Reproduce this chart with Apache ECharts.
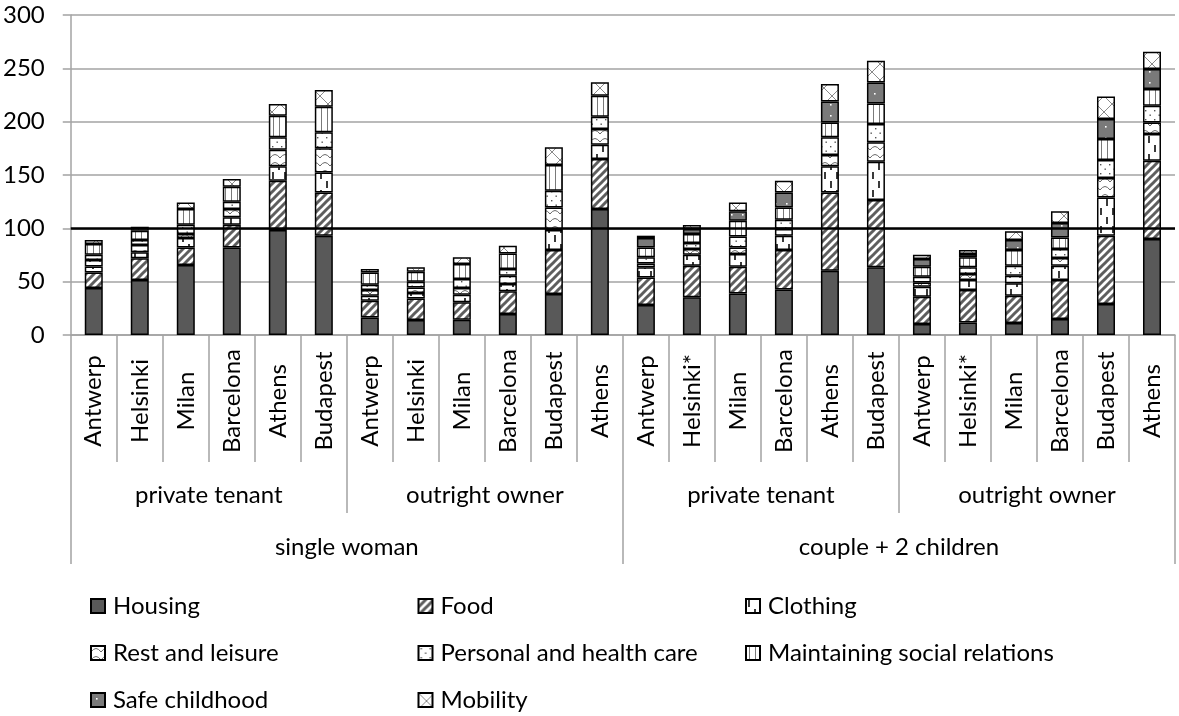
<!DOCTYPE html>
<html>
<head>
<meta charset="utf-8">
<script src="https://cdn.jsdelivr.net/npm/echarts@6/dist/echarts.min.js"></script>
<style>
  html, body { margin: 0; padding: 0; background: #fff; }
  #chart { width: 1179px; height: 716px; }
</style>
</head>
<body>
<div id="chart"></div>
<script>
// Reference budgets by household type, tenure and city
const cities = ['Antwerp', 'Helsinki', 'Milan', 'Barcelona', 'Athens', 'Budapest',
                'Antwerp', 'Helsinki', 'Milan', 'Barcelona', 'Budapest', 'Athens',
                'Antwerp', 'Helsinki*', 'Milan', 'Barcelona', 'Athens', 'Budapest',
                'Antwerp', 'Helsinki*', 'Milan', 'Barcelona', 'Budapest', 'Athens'];
const tenures = ['private tenant', 'outright owner', 'private tenant', 'outright owner'];
const households = ['single woman', 'couple + 2 children'];
const yTicks = { min: 0, max: 300, step: 50 };
const threshold = 100;

const housing   = [44, 51.6, 65.6, 82.1, 98.4, 93.1, 16.5, 14.1, 14.3, 19.7, 38.4, 118.1,
                   28.1, 35.3, 39, 42.7, 60.3, 63.4, 10.3, 11.8, 11.2, 15, 29.1, 90];
const food      = [14.7, 20.3, 16.5, 21.3, 46.3, 40.6, 15.7, 20.2, 16.3, 21.2, 41.3, 46.9,
                   25.9, 29.7, 25, 37, 73.4, 63.2, 25.6, 30.4, 25.6, 36.6, 64, 73.4];
const clothing  = [5.6, 5.6, 8.8, 6.9, 13.4, 18.7, 4.6, 5.1, 7.2, 6.9, 18.7, 13.4,
                   9.4, 10.3, 11.9, 13.4, 24.4, 35.9, 9.4, 9.4, 11.6, 13.4, 35.9, 25];
const leisure   = [6, 6.8, 3.8, 7.8, 15.6, 22.6, 5.4, 5.2, 6.3, 7.8, 21.2, 14.7,
                   3.7, 5.3, 6.2, 6.3, 10.6, 18.1, 4, 5.6, 7.2, 7.2, 18.2, 10.9];
const personal  = [5, 4.7, 8.7, 6.9, 11.6, 15, 5, 5.4, 8.4, 6.3, 15.7, 11.6,
                   5.7, 5.6, 10.3, 8.7, 16.6, 17.2, 5.4, 6.2, 9.4, 8.4, 16.9, 15.7];
const social    = [10, 8.8, 14.7, 14, 20.3, 24, 11.5, 9.3, 14.1, 14.6, 24.1, 19.6,
                   9.3, 8.5, 14.8, 11.5, 14, 19.3, 9.3, 9.4, 14.7, 10.9, 19.6, 15.6];
const childhood = [null, null, null, null, null, null, null, null, null, null, null, null,
                   8.8, 4.7, 8.7, 14.1, 19.7, 19.7, 7.2, 3.1, 9.4, 13.5, 18.8, 18.8];
const mobility  = [3.7, 3.7, 6.2, 7.2, 11, 15.7, 3.2, 4.1, 6.2, 7.2, 16.5, 12.6,
                   2.2, 3.7, 8.4, 11, 16.3, 20.4, 4.1, 3.8, 8.1, 10.9, 21.2, 16.2];

const seriesNames = ['Housing', 'Food', 'Clothing', 'Rest and leisure',
                     'Personal and health care', 'Maintaining social relations',
                     'Safe childhood', 'Mobility'];
const seriesData = [housing, food, clothing, leisure, personal, social, childhood, mobility];

// ---- fill patterns -------------------------------------------------------
function makePattern(w, h, bg, draw) {
  const c = document.createElement('canvas');
  c.width = w; c.height = h;
  const g = c.getContext('2d');
  g.fillStyle = bg;
  g.fillRect(0, 0, w, h);
  if (draw) draw(g);
  return { image: c, repeat: 'repeat' };
}
function line(g, x1, y1, x2, y2) { g.beginPath(); g.moveTo(x1, y1); g.lineTo(x2, y2); g.stroke(); }

const fills = [
  '#595959',
  makePattern(8, 8, '#ffffff', g => {            // wide diagonal stripes
    g.strokeStyle = '#5e5e5e'; g.lineWidth = 3;
    line(g, -2, 10, 10, -2); line(g, -2, 2, 2, -2); line(g, 6, 10, 10, 6);
  }),
  makePattern(12, 18, '#ffffff', g => {          // staggered vertical dashes
    g.strokeStyle = '#3a3a3a'; g.lineWidth = 2;
    line(g, 3, 1, 3, 8); line(g, 9, 10, 9, 17);
  }),
  makePattern(10, 8, '#ffffff', g => {           // waves
    g.strokeStyle = '#6a6a6a'; g.lineWidth = 1;
    g.beginPath(); g.moveTo(0, 6); g.quadraticCurveTo(5, -1, 10, 6); g.stroke();
  }),
  makePattern(9, 9, '#ffffff', g => {            // sparse dots
    g.fillStyle = '#555';
    g.fillRect(2, 2, 1.4, 1.4); g.fillRect(6.5, 6.5, 1.4, 1.4);
  }),
  makePattern(6, 6, '#ffffff', g => {            // vertical lines
    g.strokeStyle = '#7a7a7a'; g.lineWidth = 1;
    line(g, 3.5, 0, 3.5, 6);
  }),
  makePattern(11, 11, '#7a7a7a', g => {          // grey with white dots
    g.fillStyle = '#ffffff';
    g.fillRect(5, 5, 1.6, 1.6);
  }),
  makePattern(16, 16, '#ffffff', g => {          // diagonal lattice
    g.strokeStyle = '#8a8a8a'; g.lineWidth = 1;
    line(g, 0, 0, 16, 16); line(g, 16, 0, 0, 16);
  })
];

// ---- chart ---------------------------------------------------------------
const FONT = 'Lato';
const grey = '#a3a3a3';

const series = seriesNames.map((name, i) => ({
  name,
  type: 'bar',
  stack: 'total',
  xAxisIndex: 0,
  barWidth: 18,
  data: seriesData[i],
  itemStyle: { color: fills[i], borderColor: '#000', borderWidth: 1.5 },
  emphasis: { disabled: true }
}));
series[series.length - 1].markLine = {
  silent: true,
  symbol: 'none',
  label: { show: false },
  lineStyle: { color: '#000', width: 2.5, type: 'solid' },
  data: [{ yAxis: threshold }]
};

const legendCols = 3;
const legends = seriesNames.map((name, i) => ({
  data: [name],
  left: 90 + (i % legendCols) * 327.5,
  top: 594 + Math.floor(i / legendCols) * 47,
  padding: 0,
  itemWidth: 14,
  itemHeight: 14,
  icon: 'rect',
  selectedMode: false,
  textStyle: { fontFamily: FONT, fontSize: 24, color: '#000', padding: [0, 0, 0, 3] }
}));

const catAxis = (data, tickLen, labelCfg, show) => ({
  type: 'category',
  data,
  position: 'bottom',
  gridIndex: 0,
  axisLine: { show, lineStyle: { color: grey, width: 1.5 } },
  axisTick: { show: true, length: tickLen, interval: 0, lineStyle: { color: grey, width: 1.5 } },
  axisLabel: Object.assign({ interval: 0, fontFamily: FONT, fontSize: 24, color: '#000' }, labelCfg),
  splitLine: { show: false }
});

const option = {
  animation: false,
  backgroundColor: '#fff',
  grid: { left: 70, right: 4, top: 15, bottom: 381, containLabel: false },
  legend: legends,
  xAxis: [
    catAxis(cities, 127, { rotate: 90, align: 'center', verticalAlign: 'middle', margin: 66 }, true),
    catAxis(tenures, 178, { margin: 148 }, false),
    catAxis(households, 229, { margin: 200 }, false)
  ],
  yAxis: {
    type: 'value',
    min: yTicks.min,
    max: yTicks.max,
    interval: yTicks.step,
    axisLine: { show: true, lineStyle: { color: grey, width: 1.5 } },
    axisTick: { show: true, length: 8, lineStyle: { color: grey, width: 1.5 } },
    axisLabel: { fontFamily: FONT, fontSize: 24, color: '#000', margin: 26 },
    splitLine: { lineStyle: { color: grey, width: 1.5 } }
  },
  series
};

const chart = echarts.init(document.getElementById('chart'), null, { renderer: 'canvas' });
chart.setOption(option);
</script>
</body>
</html>
